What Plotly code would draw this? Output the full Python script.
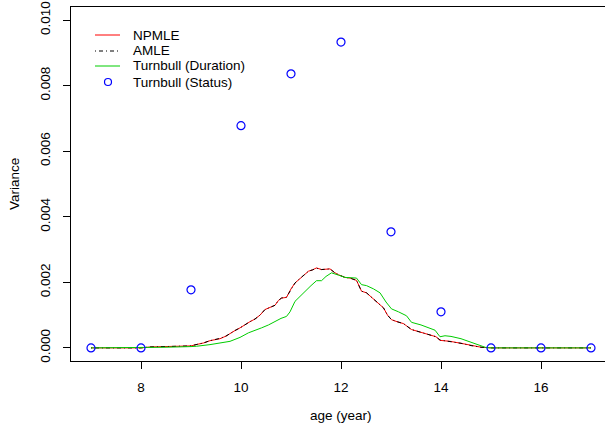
import plotly.graph_objects as go

# ---- data ----
npmle_x = [7.0, 8.0, 8.2, 8.5, 8.8, 9.0, 9.1, 9.25, 9.38, 9.5, 9.58, 9.7, 9.78, 9.88, 9.98,
           10.08, 10.18, 10.28, 10.38, 10.48, 10.58, 10.68, 10.75, 10.81, 10.91, 11.0, 11.08,
           11.15, 11.21, 11.28, 11.35, 11.43, 11.51, 11.61, 11.7, 11.78, 11.87, 11.95, 12.08,
           12.18, 12.31, 12.41, 12.51, 12.65, 12.75, 12.85, 12.93, 13.01, 13.12, 13.25, 13.41,
           13.6, 13.78, 13.9, 13.98, 14.18, 14.4, 14.6, 14.8, 15.0, 16.0, 17.0]
npmle_y = [0, 0, 0.00003, 0.00004, 0.00005, 0.00006, 0.0001, 0.00015, 0.00022, 0.00025, 0.00028,
           0.00036, 0.00044, 0.00053, 0.00061, 0.00071, 0.0008, 0.00088, 0.001, 0.00117, 0.00124,
           0.0013, 0.00145, 0.00152, 0.00154, 0.0018, 0.00198, 0.00208, 0.00215, 0.00225, 0.00234,
           0.00238, 0.00244, 0.00239, 0.0024, 0.00241, 0.0023, 0.00223, 0.00215, 0.00213, 0.00206,
           0.00173, 0.00168, 0.00148, 0.00135, 0.00122, 0.001, 0.00086, 0.0008, 0.00074, 0.00056,
           0.00048, 0.00041, 0.00034, 0.00023, 0.0002, 0.00014, 0.00007, 0.00002, 0, 0, 0]

amle_x = npmle_x
amle_y = [0, 0, 0.00003, 0.00004, 0.00005, 0.00006, 0.0001, 0.00015, 0.00022, 0.00025, 0.00029,
          0.00036, 0.00044, 0.00053, 0.00061, 0.00071, 0.0008, 0.00088, 0.001, 0.00117, 0.00124,
          0.0013, 0.00145, 0.00152, 0.00155, 0.0018, 0.00198, 0.00208, 0.00215, 0.00225, 0.00234,
          0.00238, 0.00243, 0.00239, 0.0024, 0.00241, 0.0023, 0.00223, 0.00215, 0.00213, 0.00206,
          0.00173, 0.00168, 0.00148, 0.00135, 0.00122, 0.001, 0.00086, 0.0008, 0.00074, 0.00056,
          0.00048, 0.00041, 0.00034, 0.00024, 0.0002, 0.00014, 0.00007, 0.00002, 0, 0, 0]

turn_dur_x = [7.0, 8.0, 8.5, 9.0, 9.11, 9.38, 9.6, 9.78, 9.88, 9.98, 10.15, 10.28, 10.41, 10.55,
              10.68, 10.8, 10.91, 10.98, 11.08, 11.18, 11.28, 11.4, 11.51, 11.61, 11.7, 11.81,
              11.95, 12.08, 12.2, 12.31, 12.41, 12.51, 12.65, 12.78, 12.9, 13.01, 13.15, 13.31,
              13.41, 13.6, 13.88, 13.98, 14.08, 14.2, 14.4, 14.6, 14.8, 14.9, 15.0, 16.0, 17.0]
turn_dur_y = [0, 0, 0.00002, 0.00004, 0.00005, 0.0001, 0.00015, 0.0002, 0.00026, 0.00032,
              0.00046, 0.00053, 0.00061, 0.0007, 0.00081, 0.0009, 0.00096, 0.0011, 0.00142,
              0.00158, 0.00173, 0.0019, 0.00205, 0.00205, 0.00218, 0.00229, 0.00222, 0.00215,
              0.00214, 0.00213, 0.00193, 0.0019, 0.0018, 0.00168, 0.0014, 0.00119, 0.0011,
              0.00098, 0.00078, 0.0007, 0.00054, 0.00034, 0.00037, 0.00035, 0.00028, 0.00017,
              0.00005, 0.00001, 0, 0, 0]

turn_stat_x = [7, 8, 9, 10, 11, 12, 13, 14, 15, 16, 17]
turn_stat_y = [0, 0, 0.00177, 0.00678, 0.00836, 0.00933, 0.00354, 0.00110, 0, 0, 0]

x_ticks = [8, 10, 12, 14, 16]
y_ticks = [0.000, 0.002, 0.004, 0.006, 0.008, 0.010]
y_ticklabels = ["0.000", "0.002", "0.004", "0.006", "0.008", "0.010"]

legend_labels = ["NPMLE", "AMLE", "Turnbull (Duration)", "Turnbull (Status)"]

# ---- figure ----
FONT = "Liberation Sans, Arial, Helvetica, sans-serif"
FS = 13.5
W, H = 605, 426
ML, MR, MT, MB = 71, 0, 7, 65
PW, PH = W - ML - MR, H - MT - MB
PXU = 50.0  # pixels per x unit
xmin = 6.6
xmax = xmin + PW / PXU
DOTDASH = "1px,3px,4px,3px"

fig = go.Figure()
fig.add_trace(go.Scatter(x=npmle_x, y=npmle_y, mode="lines",
                         line=dict(color="#FF0000", width=1), name=legend_labels[0]))
fig.add_trace(go.Scatter(x=amle_x, y=amle_y, mode="lines",
                         line=dict(color="#000000", width=1, dash=DOTDASH), name=legend_labels[1]))
fig.add_trace(go.Scatter(x=turn_dur_x, y=turn_dur_y, mode="lines",
                         line=dict(color="#00CD00", width=1), name=legend_labels[2]))
fig.add_trace(go.Scatter(x=turn_stat_x, y=turn_stat_y, mode="markers",
                         marker=dict(symbol="circle-open", size=8, color="#0000FF",
                                     line=dict(width=1.2, color="#0000FF")),
                         name=legend_labels[3], cliponaxis=False))

fig.update_layout(
    width=W, height=H,
    margin=dict(l=ML, r=MR, t=MT, b=MB, pad=0, autoexpand=False),
    paper_bgcolor="white", plot_bgcolor="white",
    showlegend=False,
    font=dict(family=FONT, size=FS, color="#000000"),
    xaxis=dict(range=[xmin, xmax], tickvals=x_ticks, ticks="outside", ticklen=7,
               tickcolor="#000", tickwidth=1, showline=True, linecolor="#000", linewidth=1,
               mirror=True, showgrid=False, zeroline=False, ticklabelstandoff=7,
               automargin=False,
               tickfont=dict(family=FONT, size=FS, color="#000")),
    yaxis=dict(range=[-0.0004, 0.0104], tickvals=y_ticks, ticktext=y_ticklabels,
               tickangle=-90, ticks="outside", ticklen=7, tickcolor="#000", tickwidth=1,
               showline=True, linecolor="#000", linewidth=1, showgrid=False, zeroline=False,
               ticklabelstandoff=8, automargin=False,
               tickfont=dict(family=FONT, size=FS, color="#000")),
)

def px2paper_x(px):
    return (px - ML) / PW

def py2paper_y(py):
    return (H - MB - py) / PH

# axis titles
fig.add_annotation(x=12, y=py2paper_y(415), xref="x", yref="paper", text="age (year)",
                   showarrow=False, font=dict(family=FONT, size=FS, color="#000"),
                   xanchor="center", yanchor="middle")
fig.add_annotation(x=px2paper_x(14), y=py2paper_y(184), xref="paper", yref="paper",
                   text="Variance", textangle=-90, showarrow=False,
                   font=dict(family=FONT, size=FS, color="#000"),
                   xanchor="center", yanchor="middle")

# legend (drawn manually, R-style, no box)
rows_py = [35, 51, 66, 82]
styles = [dict(color="#FF0000", width=1), dict(color="#000000", width=1, dash=DOTDASH),
          dict(color="#00CD00", width=1), None]
for lab, py, st in zip(legend_labels, rows_py, styles):
    yy = py2paper_y(py)
    if st is not None:
        fig.add_shape(type="line", xref="paper", yref="paper",
                      x0=px2paper_x(95), x1=px2paper_x(120), y0=yy, y1=yy, line=st)
    else:
        fig.add_shape(type="circle", xref="paper", yref="paper",
                      xsizemode="pixel", ysizemode="pixel",
                      xanchor=px2paper_x(108), yanchor=yy,
                      x0=-3.5, x1=3.5, y0=-3.5, y1=3.5,
                      line=dict(color="#0000FF", width=1.2))
    fig.add_annotation(x=px2paper_x(131), y=yy, xref="paper", yref="paper", text=lab,
                       showarrow=False, xanchor="left", yanchor="middle",
                       font=dict(family=FONT, size=FS, color="#000"))

fig.write_html("out.html", config={"displayModeBar": False},
               post_script="document.body.style.margin='0px';document.body.style.padding='0px';")
